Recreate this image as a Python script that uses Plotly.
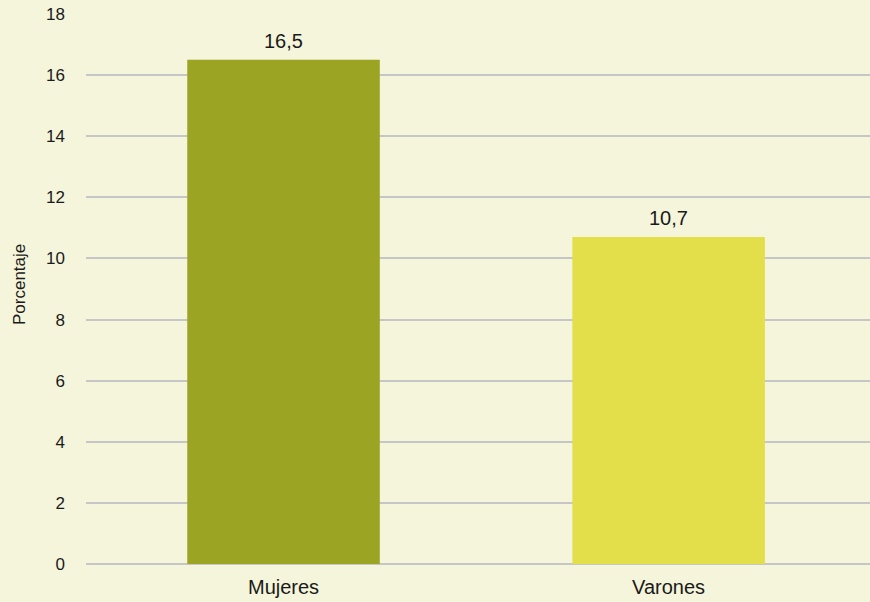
import plotly.graph_objects as go

categories = ["Mujeres", "Varones"]
values = [16.5, 10.7]
colors = ["#9ca523", "#e3df4a"]
y_ticks = [0, 2, 4, 6, 8, 10, 12, 14, 16, 18]

font_family = "Liberation Sans, Arial, Helvetica, sans-serif"

fig = go.Figure()
fig.add_trace(go.Bar(
    x=categories,
    y=values,
    width=0.5,
    marker=dict(color=colors, line=dict(width=0)),
    hoverinfo="x+y",
))

annotations = [
    dict(
        x=c, y=v, xref="x", yref="y",
        text=f"{v:.1f}".replace(".", ","),
        showarrow=False, yanchor="middle", yshift=19,
        font=dict(size=20, color="#1a1a1a"),
    )
    for c, v in zip(categories, values)
]
annotations.append(dict(
    text="Porcentaje", xref="paper", yref="paper",
    x=(19 - 86) / 784, y=(564 - 285) / 550, textangle=-90,
    showarrow=False, font=dict(size=17, color="#1a1a1a"),
    xanchor="center", yanchor="middle",
))

fig.update_layout(
    width=870, height=602,
    margin=dict(l=86, r=0, t=14, b=38),
    paper_bgcolor="#f4f5da",
    plot_bgcolor="rgba(0,0,0,0)",
    separators=",.",
    showlegend=False,
    font=dict(family=font_family, color="#1a1a1a"),
    xaxis=dict(
        range=[-0.513, 1.523],
        showgrid=False,
        showline=False,
        zeroline=False,
        tickfont=dict(size=20),
        ticks="",
        ticklabelstandoff=9,
    ),
    yaxis=dict(
        range=[0, 18],
        tickvals=y_ticks,
        showgrid=True,
        gridcolor="#c6c6c6",
        gridwidth=2,
        zeroline=True,
        zerolinecolor="#c6c6c6",
        zerolinewidth=2,
        showline=False,
        tickfont=dict(size=17),
        ticks="",
        ticklabelstandoff=20,
    ),
    annotations=annotations,
)

fig.write_html(
    "out.html",
    config={"displayModeBar": False},
    post_script="document.body.style.margin='0';document.body.style.background='#f4f5da';",
)
